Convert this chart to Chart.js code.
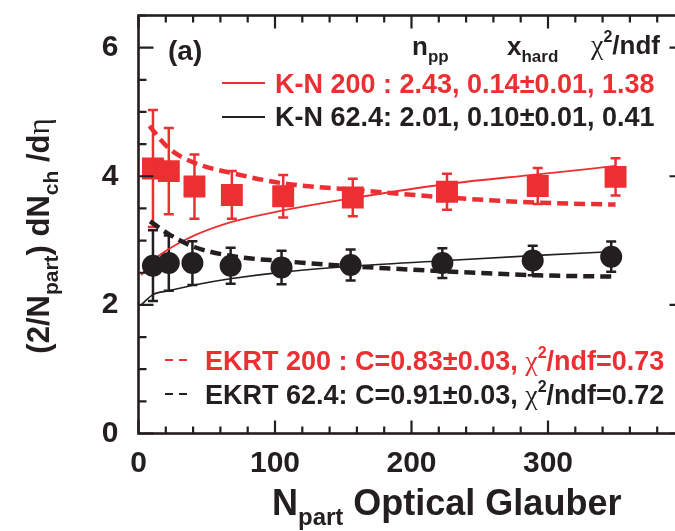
<!DOCTYPE html>
<html><head><meta charset="utf-8">
<script src="https://cdn.jsdelivr.net/npm/chart.js@4"></script>
<style>html,body{margin:0;padding:0;overflow:hidden;background:#fff}</style>
</head><body>
<canvas id="c" width="700" height="531"></canvas>
<script>
const RED = '#ec2f33', BLK = '#231f20';
const SANS = '"Liberation Sans", Arial, Helvetica, sans-serif';
const SERIF = '"Liberation Serif", "DejaVu Serif", serif';

// tick labels
const xTickLabels = [0, 100, 200, 300];
const yTickLabels = [0, 2, 4, 6];

// data: 200 GeV (red squares)
const npart200 = [10.6, 22.2, 41, 68.4, 106, 157, 226, 292.5, 349.5];
const dndeta200 = [4.12, 4.08, 3.84, 3.71, 3.69, 3.67, 3.76, 3.85, 3.99];
const err200 = [0.91, 0.67, 0.50, 0.37, 0.33, 0.29, 0.28, 0.28, 0.29];

// data: 62.4 GeV (black circles)
const npart62 = [10.6, 22.2, 39.5, 67.5, 104.8, 155.4, 222.6, 288.8, 346.3];
const dndeta62 = [2.61, 2.65, 2.65, 2.61, 2.58, 2.62, 2.65, 2.69, 2.75];
const err62 = [0.55, 0.43, 0.34, 0.28, 0.26, 0.24, 0.23, 0.23, 0.235];

// K-N fit curves
const knN = [2, 10.6, 22.2, 41, 68.4, 106, 157, 226, 292.5, 349.5];
const kn200 = [2.46, 2.69, 2.87, 3.08, 3.29, 3.47, 3.66, 3.88, 4.03, 4.16];
const kn62 = [2.00, 2.16, 2.22, 2.31, 2.41, 2.51, 2.60, 2.69, 2.77, 2.83];

// EKRT curves
const ekrtN200 = [8, 22.5, 42, 68.4, 106, 157, 226, 292.5, 349.5];
const ekrt200 = [4.78, 4.43, 4.20, 4.05, 3.89, 3.79, 3.67, 3.59, 3.56];
const ekrtN62 = [8.5, 22.2, 41, 68.4, 106, 157, 226, 292.5, 347];
const ekrt62 = [3.30, 3.10, 2.90, 2.76, 2.68, 2.60, 2.52, 2.46, 2.44];

const pts = (xs, ys) => xs.map((x, i) => ({x: x, y: ys[i]}));

function drawRich(ctx, x, y, parts, color) {
  ctx.fillStyle = color;
  ctx.textBaseline = 'alphabetic';
  ctx.textAlign = 'left';
  for (const p of parts) {
    ctx.font = p.f;
    ctx.fillText(p.t, x, y + (p.dy || 0));
    x += ctx.measureText(p.t).width;
  }
  return x;
}
function richWidth(ctx, parts) {
  let w = 0;
  for (const p of parts) { ctx.font = p.f; w += ctx.measureText(p.t).width; }
  return w;
}

const B27 = 'bold 27px ' + SANS, B26 = 'bold 26px ' + SANS, B17 = 'bold 17px ' + SANS, S28 = '28px ' + SERIF, B16 = 'bold 16px ' + SANS;

const errorBars = {
  id: 'errorBars',
  beforeDatasetsDraw(chart) {
    const ctx = chart.ctx, xs = chart.scales.x, ys = chart.scales.y;
    const sets = [[npart200, dndeta200, err200, RED], [npart62, dndeta62, err62, BLK]];
    ctx.save();
    ctx.lineWidth = 2.5;
    for (const [nx, v, e, col] of sets) {
      ctx.strokeStyle = col;
      nx.forEach((n, i) => {
        const px = xs.getPixelForValue(n);
        const t = ys.getPixelForValue(v[i] + e[i]);
        const b = ys.getPixelForValue(v[i] - e[i]);
        ctx.beginPath();
        ctx.moveTo(px, t); ctx.lineTo(px, b);
        ctx.moveTo(px - 5, t); ctx.lineTo(px + 5, t);
        ctx.moveTo(px - 5, b); ctx.lineTo(px + 5, b);
        ctx.stroke();
      });
    }
    ctx.restore();
  }
};

const frameAndText = {
  id: 'frameAndText',
  afterDraw(chart) {
    const ctx = chart.ctx, a = chart.chartArea, xs = chart.scales.x, ys = chart.scales.y;
    ctx.save();
    ctx.strokeStyle = BLK;
    ctx.lineWidth = 2.2;
    ctx.beginPath();
    for (let v = 0; v <= 400.001; v += 20) {
      const px = xs.getPixelForValue(v);
      const len = (Math.abs(v % 100) < 1e-6) ? 13 : 7;
      ctx.moveTo(px, a.bottom); ctx.lineTo(px, a.bottom - len);
      ctx.moveTo(px, a.top); ctx.lineTo(px, a.top + len);
    }
    for (let v = 0; v <= 6.5001; v += 0.5) {
      const py = ys.getPixelForValue(v);
      const len = (Math.abs(v % 2) < 1e-6) ? 15 : 8;
      ctx.moveTo(a.left, py); ctx.lineTo(a.left + len, py);
      ctx.moveTo(a.right, py); ctx.lineTo(a.right - len, py);
    }
    ctx.stroke();
    ctx.lineWidth = 2.6;
    ctx.strokeRect(a.left, a.top, a.right - a.left, a.bottom - a.top);

    // panel label and header
    drawRich(ctx, 168, 60, [{t: '(a)', f: 'bold 28px ' + SANS}], BLK);
    drawRich(ctx, 412, 55, [{t: 'n', f: B26}, {t: 'pp', f: B17, dy: 7}], BLK);
    drawRich(ctx, 507, 55, [{t: 'x', f: B26}, {t: 'hard', f: B17, dy: 7}], BLK);
    drawRich(ctx, 591, 54, [{t: '\u03c7', f: S28}, {t: '2', f: B16, dy: -12}, {t: '/ndf', f: B26}], BLK);

    // K-N legend
    ctx.lineWidth = 2;
    ctx.strokeStyle = RED;
    ctx.beginPath(); ctx.moveTo(222, 83); ctx.lineTo(265, 83); ctx.stroke();
    ctx.strokeStyle = BLK;
    ctx.beginPath(); ctx.moveTo(222, 117); ctx.lineTo(265, 117); ctx.stroke();
    drawRich(ctx, 275, 93, [{t: 'K-N 200 : 2.43, 0.14\u00b10.01, 1.38', f: B27}], RED);
    drawRich(ctx, 275, 126, [{t: 'K-N 62.4: 2.01, 0.10\u00b10.01, 0.41', f: B27}], BLK);

    // EKRT legend
    ctx.lineWidth = 2;
    ctx.setLineDash([8, 6]);
    ctx.strokeStyle = RED;
    ctx.beginPath(); ctx.moveTo(165, 360); ctx.lineTo(188, 360); ctx.stroke();
    ctx.strokeStyle = BLK;
    ctx.beginPath(); ctx.moveTo(165, 394); ctx.lineTo(188, 394); ctx.stroke();
    ctx.setLineDash([]);
    drawRich(ctx, 205, 370, [{t: 'EKRT 200 : C=0.83\u00b10.03, ', f: B27}, {t: '\u03c7', f: S28}, {t: '2', f: B16, dy: -12}, {t: '/ndf=0.73', f: B27}], RED);
    drawRich(ctx, 205, 404, [{t: 'EKRT 62.4: C=0.91\u00b10.03, ', f: B27}, {t: '\u03c7', f: S28}, {t: '2', f: B16, dy: -12}, {t: '/ndf=0.72', f: B27}], BLK);

    // x axis title
    const T = 'bold 36px ' + SANS, Ts = 'bold 24px ' + SANS;
    drawRich(ctx, 272, 515, [{t: 'N', f: T}, {t: 'part', f: Ts, dy: 10}, {t: ' Optical Glauber', f: T}], BLK);

    // y axis title (rotated)
    const TY = 'bold 31px ' + SANS, TYs = 'bold 21px ' + SANS;
    const yparts = [{t: '(2/N', f: TY}, {t: 'part', f: TYs, dy: 9}, {t: ') dN', f: TY}, {t: 'ch', f: TYs, dy: 9}, {t: ' /d', f: TY}, {t: '\u03b7', f: '31px ' + SERIF}];
    const w = richWidth(ctx, yparts);
    ctx.translate(49, 236);
    ctx.rotate(-Math.PI / 2);
    drawRich(ctx, -w / 2, 0, yparts, BLK);
    ctx.restore();
  }
};

new Chart(document.getElementById('c'), {
  type: 'scatter',
  data: {
    datasets: [
      {label: 'data 200', data: pts(npart200, dndeta200), pointStyle: 'rect', pointRadius: 15.5, backgroundColor: RED, borderWidth: 0, order: 0},
      {label: 'data 62.4', data: pts(npart62, dndeta62), pointStyle: 'circle', pointRadius: 11, backgroundColor: BLK, borderWidth: 0, order: 0},
      {label: 'K-N 200', data: pts(knN, kn200), showLine: true, borderColor: RED, borderWidth: 1.8, pointRadius: 0, cubicInterpolationMode: 'monotone', order: 2},
      {label: 'K-N 62.4', data: pts(knN, kn62), showLine: true, borderColor: BLK, borderWidth: 1.6, pointRadius: 0, cubicInterpolationMode: 'monotone', order: 2},
      {label: 'EKRT 200', data: pts(ekrtN200, ekrt200), showLine: true, borderColor: RED, borderWidth: 4.5, borderDash: [11, 6], pointRadius: 0, cubicInterpolationMode: 'monotone', order: 1},
      {label: 'EKRT 62.4', data: pts(ekrtN62, ekrt62), showLine: true, borderColor: BLK, borderWidth: 4.5, borderDash: [11, 6], pointRadius: 0, cubicInterpolationMode: 'monotone', order: 1}
    ]
  },
  options: {
    responsive: false,
    animation: false,
    devicePixelRatio: 1,
    layout: {padding: {top: 10, right: 13, left: 0, bottom: 0}},
    plugins: {legend: {display: false}, tooltip: {enabled: false}, title: {display: false}},
    scales: {
      x: {
        type: 'linear', min: 0, max: 400,
        afterBuildTicks: s => { s.ticks = xTickLabels.map(v => ({value: v})); },
        afterFit: s => { s.height = 97.5; s.paddingLeft = 0; s.paddingRight = 0; s.paddingTop = 0; s.paddingBottom = 0; },
        grid: {display: false, drawTicks: false},
        border: {display: false},
        ticks: {font: {family: SANS, size: 30, weight: 'bold'}, color: BLK, padding: 12, maxRotation: 0}
      },
      y: {
        type: 'linear', min: 0, max: 6.5,
        afterBuildTicks: s => { s.ticks = yTickLabels.map(v => ({value: v})); },
        afterFit: s => { s.width = 138.5; s.paddingLeft = 0; s.paddingRight = 0; s.paddingTop = 0; s.paddingBottom = 0; },
        grid: {display: false, drawTicks: false},
        border: {display: false},
        ticks: {font: {family: SANS, size: 30, weight: 'bold'}, color: BLK, padding: 20}
      }
    }
  },
  plugins: [errorBars, frameAndText]
});
</script>
</body></html>
